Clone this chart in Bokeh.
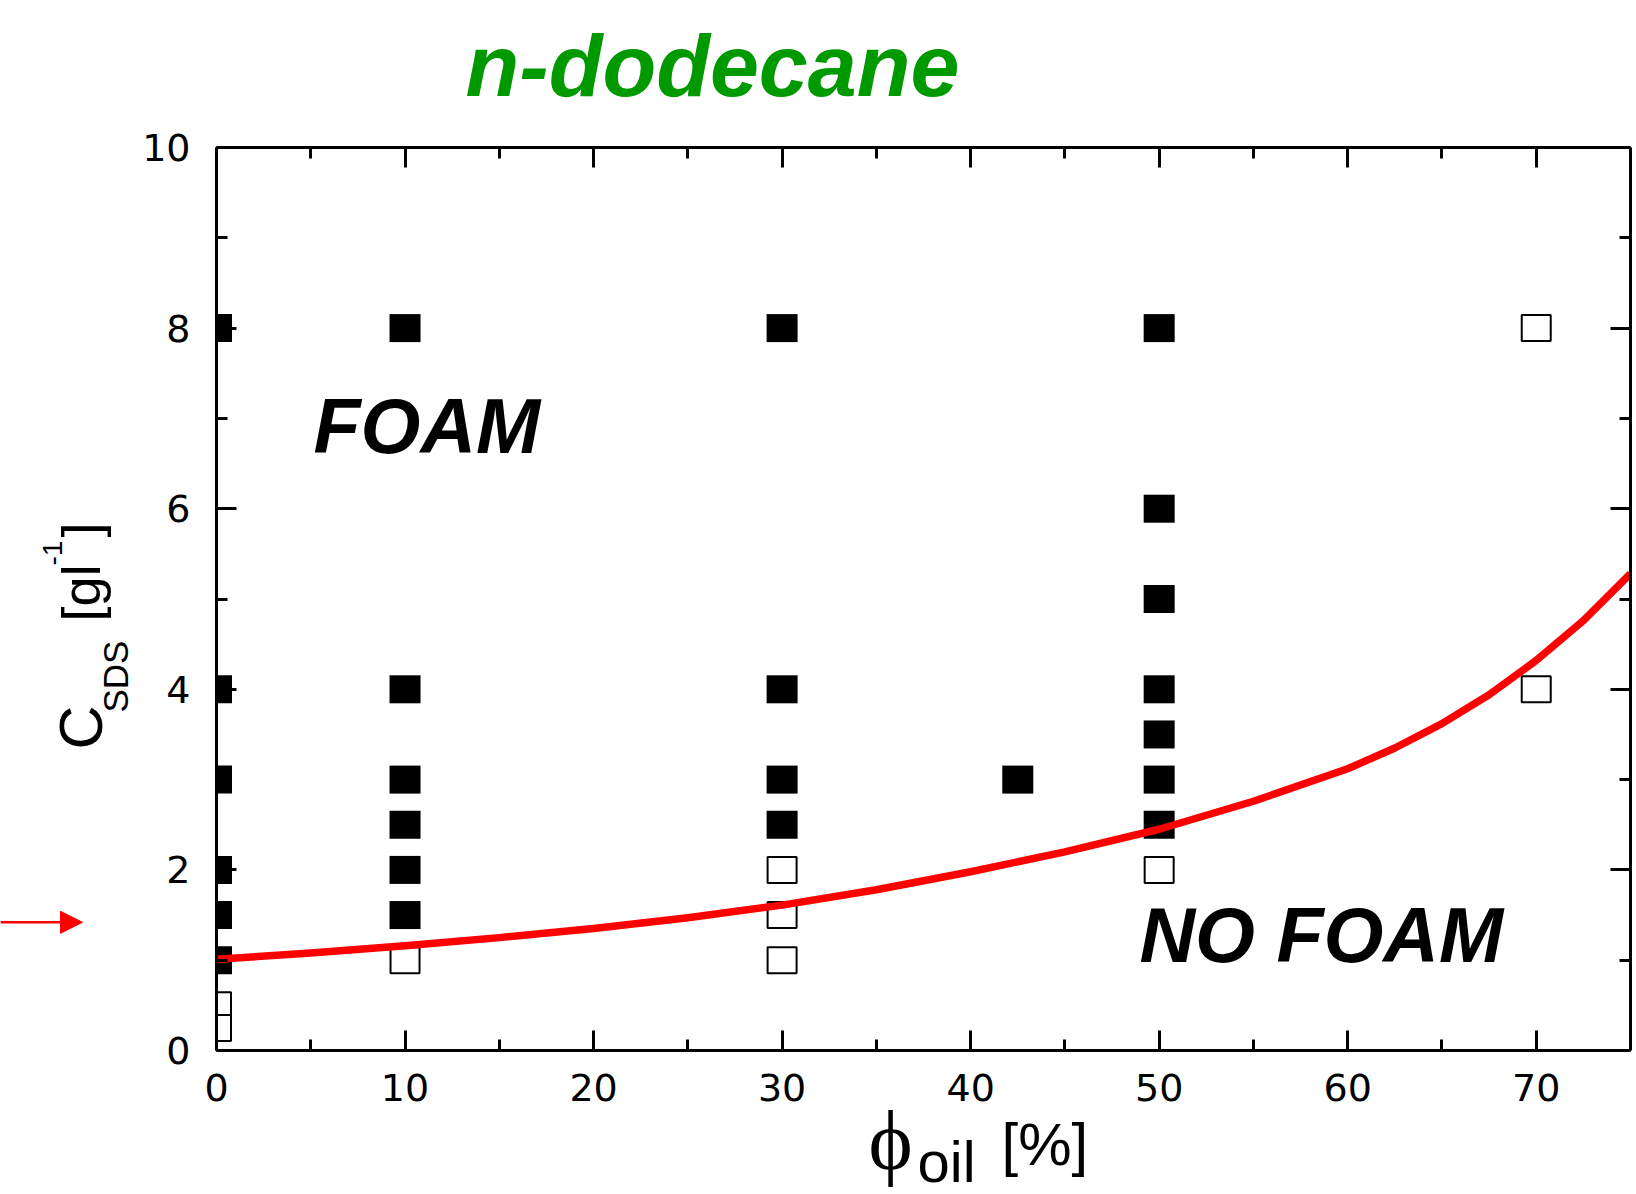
import math

from bokeh.plotting import figure
from bokeh.models import Label, Arrow, NormalHead, LinearAxis, FixedTicker, Range1d
from bokeh.embed import file_html
from bokeh.resources import INLINE

# --- data -------------------------------------------------------------
# oil volume fraction [%] and SDS concentration [g/l]
foam_phi = [0, 0, 0, 0, 0, 0,
            10, 10, 10, 10, 10, 10,
            30, 30, 30, 30,
            42.5,
            50, 50, 50, 50, 50, 50, 50]
foam_c = [8, 4, 3, 2, 1.5, 1.0,
          8, 4, 3, 2.5, 2, 1.5,
          8, 4, 3, 2.5,
          3,
          8, 6, 5, 4, 3.5, 3, 2.5]

nofoam_phi = [0, 0, 10, 30, 30, 30, 50, 70, 70]
nofoam_c = [0.5, 0.25, 1.0, 2.0, 1.5, 1.0, 2.0, 8, 4]

# foam / no-foam boundary
boundary_phi = [0, 5, 10, 15, 20, 25, 30, 35, 40, 45, 50, 55, 60,
                62.5, 65, 67.5, 70, 72.5, 75]
boundary_c = [1.01, 1.08, 1.16, 1.25, 1.35, 1.47, 1.61, 1.78, 1.98, 2.20, 2.45,
              2.76, 3.12, 3.35, 3.62, 3.94, 4.32, 4.76, 5.28]

# level marked by the arrow left of the concentration axis
arrow_level = 1.42

x_major = [0, 10, 20, 30, 40, 50, 60, 70]
x_minor = [5, 15, 25, 35, 45, 55, 65]
y_major = [0, 2, 4, 6, 8, 10]
y_minor = [1, 3, 5, 7, 9]

X_MIN, X_MAX = 0, 75
Y_MIN, Y_MAX = 0, 10

# --- page layout (pixels) ---------------------------------------------
W, H = 1636, 1194
BOX_L, BOX_R, BOX_T, BOX_B = 216, 1630, 147, 1050   # axes box

kx = (BOX_R - BOX_L) / (X_MAX - X_MIN)
ky = (BOX_B - BOX_T) / (Y_MAX - Y_MIN)
x_lo, x_hi = X_MIN - BOX_L / kx, X_MAX + (W - BOX_R) / kx
y_lo, y_hi = Y_MIN - (H - BOX_B) / ky, Y_MAX + BOX_T / ky

p = figure(width=W, height=H, x_range=Range1d(x_lo, x_hi), y_range=Range1d(y_lo, y_hi),
           output_backend="svg", toolbar_location=None, title=None,
           x_axis_location=None, y_axis_location=None,
           min_border=0, min_border_left=0, min_border_right=0,
           min_border_top=0, min_border_bottom=0)
p.xgrid.visible = False
p.ygrid.visible = False
p.outline_line_color = None
p.background_fill_color = "white"
p.border_fill_color = "white"

tick_font = "DejaVu Sans"


def make_axis(ticks, minor, loc, bounds, labels=True):
    ax = LinearAxis(fixed_location=loc, bounds=bounds,
                    ticker=FixedTicker(ticks=ticks, minor_ticks=minor))
    ax.axis_line_color = "black"
    ax.axis_line_width = 3
    ax.major_tick_line_color = "black"
    ax.major_tick_line_width = 3
    ax.minor_tick_line_color = "black"
    ax.minor_tick_line_width = 3
    ax.major_tick_in = 20
    ax.major_tick_out = 0
    ax.minor_tick_in = 11
    ax.minor_tick_out = 0
    if labels:
        ax.major_label_text_font = tick_font
        ax.major_label_text_font_size = "38px"
        ax.major_label_text_color = "black"
    else:
        ax.major_label_overrides = {t: "" for t in ticks}
    return ax


# --- points and boundary curve ----------------------------------------
p.rect(foam_phi, foam_c, width=31, height=28,
       width_units="screen", height_units="screen",
       fill_color="black", line_color=None)
p.rect(nofoam_phi, nofoam_c, width=29, height=26,
       width_units="screen", height_units="screen",
       fill_color="white", line_color="black", line_width=2)
p.line(boundary_phi, boundary_c, line_color="#ff0000", line_width=7.5,
       line_join="round")

# keep marks inside the axes box: blank out the margins left and right of it
p.quad(left=[x_lo, X_MAX], right=[X_MIN, x_hi], bottom=[y_lo, y_lo], top=[y_hi, y_hi],
       fill_color="white", line_color=None)

bottom_axis = make_axis(x_major, x_minor, Y_MIN, (X_MIN, X_MAX))
bottom_axis.major_label_standoff = 23
left_axis = make_axis(y_major, y_minor, X_MIN, (Y_MIN, Y_MAX))
left_axis.major_label_standoff = 26
top_axis = make_axis(x_major, x_minor, Y_MAX, (X_MIN, X_MAX), labels=False)
right_axis = make_axis(y_major, y_minor, X_MAX, (Y_MIN, Y_MAX), labels=False)
p.add_layout(bottom_axis, "below")
p.add_layout(left_axis, "left")
p.add_layout(top_axis, "above")
p.add_layout(right_axis, "right")


# --- texts, placed by page pixel (x from left, baseline y from top) ---
def text_px(x, y_base, text, size_px, font="Liberation Sans", style="normal",
            color="black", angle=0.0, align="left", mid=0.3465):
    # labels are anchored on their middle line; shift so the baseline lands at y_base
    shift = mid * size_px
    if angle:
        sx, sy = x - shift, H - y_base
    else:
        sx, sy = x, H - (y_base - shift)
    p.add_layout(Label(x=sx, y=sy, x_units="screen", y_units="screen",
                       text=text, text_font=font, text_font_style=style,
                       text_font_size=f"{size_px}px", text_color=color,
                       angle=angle, angle_units="rad",
                       text_align=align, text_baseline="middle"))


text_px(712, 95, "n-dodecane", 88, style="bold italic", color="#009900", align="center")
text_px(313, 452, "FOAM", 77, style="bold italic")
text_px(1139, 961, "NO FOAM", 77, style="bold italic")

# concentration axis title (rotated; x is the baseline, y where the piece starts)
rot = math.pi / 2
text_px(102, 749, "C", 61, angle=rot)
text_px(127, 712, "SDS", 35, angle=rot)
text_px(99, 621, "[gl", 54, angle=rot)
text_px(62, 565, "-1", 28, angle=rot)
text_px(99, 537, "]", 54, angle=rot)

# oil fraction axis title
text_px(868, 1168, "ϕ", 84, font="Liberation Serif", mid=0.3375)
text_px(917, 1181, "oil", 58)
text_px(1001, 1165, "[%]", 60)

# --- arrow marking the level on the concentration axis ----------------
p.add_layout(Arrow(end=NormalHead(size=22, fill_color="#ff0000", line_color="#ff0000"),
                   x_start=x_lo, y_start=arrow_level,
                   x_end=X_MIN - (BOX_L - 82) / kx, y_end=arrow_level,
                   line_color="#ff0000", line_width=2.5))

open("out.html", "w").write(file_html(p, INLINE))
